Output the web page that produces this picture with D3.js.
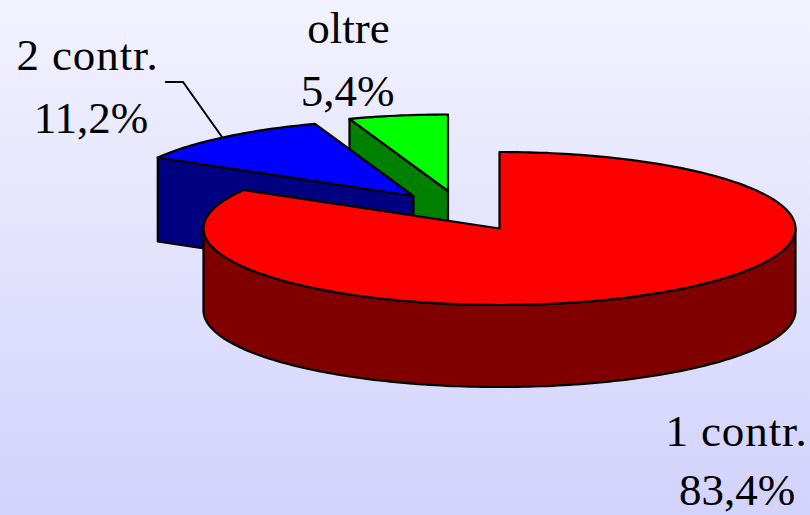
<!DOCTYPE html>
<html><head><meta charset="utf-8">
<script src="https://cdn.jsdelivr.net/npm/d3@7"></script>
<style>html,body{margin:0;padding:0;background:#fff}svg{display:block}text{font-family:"Liberation Serif",serif;fill:#000}</style>
</head><body><div id="c"></div>
<script>
const categories = ["1 contr.", "2 contr.", "oltre"];
const values = [83.4, 11.2, 5.4];
const topColors = ["#ff0000", "#0000ff", "#00ff00"];
const sideColors = ["#800000", "#000080", "#008000"];

const W = 810, H = 515, RX = 296, RY = 76.5, FS = 45;
const depths = [82, 84, 84];
const centers = [[499.5, 228.5], [413.5, 196], [448, 191]];
// [name x, name baseline, value x, value baseline, name letter spacing]
const labelPos = [[736.5, 446, 737, 505, 0.9], [87.5, 70, 91, 133, 0.9], [348.5, 43, 347.5, 106, 0]];
const leader = [[165, 82], [183, 82], [222, 137]];

const svg = d3.select("#c").append("svg").attr("width", W).attr("height", H);
const grad = svg.append("defs").append("linearGradient").attr("id", "bg")
  .attr("x1", 0).attr("y1", 0).attr("x2", 0).attr("y2", 1);
grad.append("stop").attr("offset", 0).attr("stop-color", "#f2f2ff");
grad.append("stop").attr("offset", 1).attr("stop-color", "#d2d2fc");
svg.append("rect").attr("width", W).attr("height", H).attr("fill", "url(#bg)");

const arcs = d3.pie().sort(null).startAngle(0).endAngle(2 * Math.PI)(values);
const line = d3.line();
const pt = (c, a, dz = 0) => [c[0] + RX * Math.sin(a), c[1] - RY * Math.cos(a) + dz];
const samples = (a0, a1) => {
  const n = Math.max(2, Math.ceil(Math.abs(a1 - a0) / 0.02));
  return d3.range(n + 1).map(i => a0 + (a1 - a0) * i / n);
};
const stroke = g => g.attr("stroke", "#000").attr("stroke-width", 2.2).attr("stroke-linejoin", "round");

// back-to-front paint order: green, blue, red
[2, 1, 0].forEach(i => {
  const c = centers[i], d = depths[i], { startAngle: a0, endAngle: a1 } = arcs[i];
  const g = svg.append("g");
  if (i > 0) {
    // cut wall at the start side of the wedge, visible below the top face
    const o = pt(c, a0);
    const wall = [[c[0], c[1]], o, [o[0], o[1] + d], [c[0], c[1] + d]];
    g.append("path").attr("d", line(wall) + "Z").attr("fill", sideColors[i]).call(stroke);
  } else {
    // outer curved wall on the front half
    const front = samples(Math.PI / 2, 3 * Math.PI / 2);
    const wall = front.map(a => pt(c, a)).concat(front.slice().reverse().map(a => pt(c, a, d)));
    g.append("path").attr("d", line(wall) + "Z").attr("fill", sideColors[i]).call(stroke);
  }
  const topFace = [[c[0], c[1]]].concat(samples(a0, a1).map(a => pt(c, a)));
  g.append("path").attr("d", line(topFace) + "Z").attr("fill", topColors[i]).call(stroke);
});

svg.append("path").attr("d", line(leader)).attr("fill", "none").attr("stroke", "#000").attr("stroke-width", 2);

categories.forEach((name, i) => {
  const [x1, y1, x2, y2, ls] = labelPos[i];
  const t = svg.append("g").attr("text-anchor", "middle").attr("font-size", FS);
  t.append("text").attr("x", x1).attr("y", y1).attr("letter-spacing", ls).text(name);
  t.append("text").attr("x", x2).attr("y", y2).text(String(values[i]).replace(".", ",") + "%");
});
</script></body></html>
